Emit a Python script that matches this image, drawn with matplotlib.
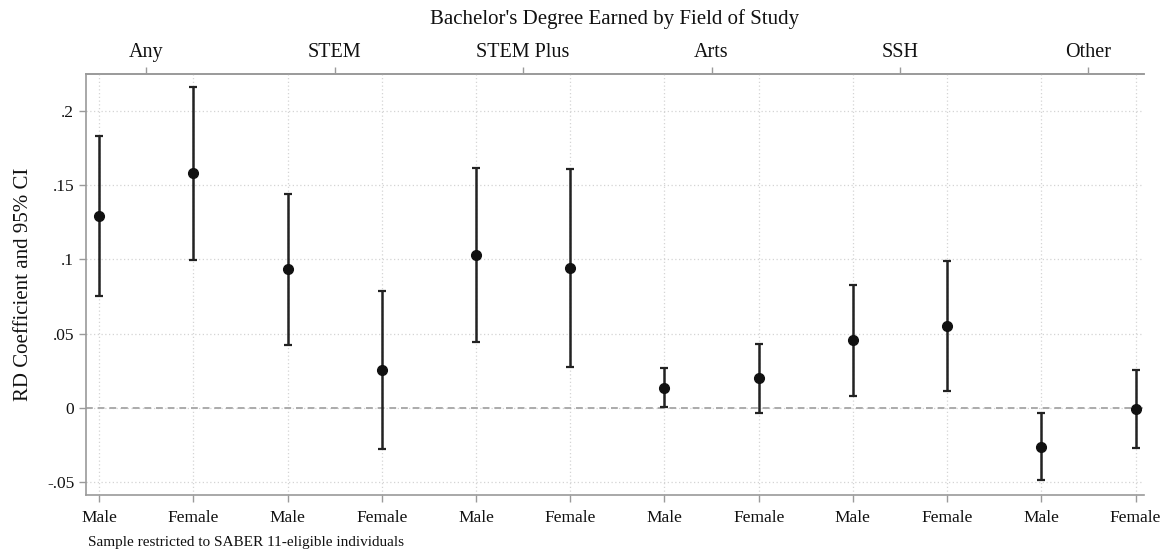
import numpy as np
import matplotlib
matplotlib.use("Agg")
import matplotlib.pyplot as plt

plt.rcParams['font.family'] = ['Liberation Serif', 'DejaVu Serif']

# data
fields = ["Any", "STEM", "STEM Plus", "Arts", "SSH", "Other"]
sexes = ["Male", "Female"]
coef = [0.129, 0.158, 0.0935, 0.0253, 0.103, 0.094,
        0.0135, 0.0199, 0.0455, 0.0552, -0.0262, -0.001]
ci_hi = [0.183, 0.216, 0.144, 0.0785, 0.1615, 0.1608,
         0.0269, 0.0433, 0.083, 0.0987, -0.0034, 0.0253]
ci_lo = [0.075, 0.0998, 0.0426, -0.0276, 0.0442, 0.0273,
         0.0002, -0.0036, 0.0078, 0.0114, -0.0485, -0.0272]
yticks = [-0.05, 0, 0.05, 0.1, 0.15, 0.2]
ytick_labels = ["-.05", "0", ".05", ".1", ".15", ".2"]

coef = np.array(coef)
ci_hi = np.array(ci_hi)
ci_lo = np.array(ci_lo)
x = np.arange(1, len(coef) + 1)

fig = plt.figure(figsize=(11.69, 5.52), dpi=100)
ax = fig.add_axes([0.0736, 0.1033, 0.905, 0.7627])

spine_c = "#9a9a9a"
grid_c = "#d4d4d4"

ax.grid(True, color=grid_c, linestyle=(0, (1, 2)), linewidth=0.9)
ax.set_axisbelow(True)
ax.axhline(0, color="#ababab", linestyle=(0, (3.5, 2.5)), linewidth=1.4, zorder=1)

ax.errorbar(x, coef, yerr=[coef - ci_lo, ci_hi - coef], fmt="o", color="#111111",
            ecolor="#222222", elinewidth=1.8, capsize=3, capthick=1.6,
            markersize=7, zorder=3)

ax.set_xlim(0.86, 12.09)
ax.set_ylim(-0.0588, 0.225)
ax.set_xticks(x)
ax.set_xticklabels(sexes * len(fields))
ax.set_yticks(yticks)
ax.set_yticklabels(ytick_labels)
ax.tick_params(axis="both", colors=spine_c, labelcolor="#111111", labelsize=12.5,
               length=5, width=1)
ax.tick_params(axis="x", pad=6)

ax.spines["right"].set_visible(False)
for s in ["left", "bottom", "top"]:
    ax.spines[s].set_color(spine_c)
    ax.spines[s].set_linewidth(1.2)

ax.set_ylabel("RD Coefficient and 95% CI", fontsize=15, color="#111111", labelpad=10)

top = ax.secondary_xaxis("top")
top.set_xticks(x[::2] + 0.5)
top.set_xticklabels(fields)
top.tick_params(colors=spine_c, labelcolor="#111111", labelsize=14.5, length=5, width=1)
top.spines["top"].set_color(spine_c)
top.spines["top"].set_linewidth(1.2)
top.set_xlabel("Bachelor's Degree Earned by Field of Study", fontsize=15,
               color="#111111", labelpad=14)

fig.text(0.0752, 0.01, "Sample restricted to SABER 11-eligible individuals",
         fontsize=11, color="#111111")

fig.savefig("out.png", dpi=100, facecolor="white")
